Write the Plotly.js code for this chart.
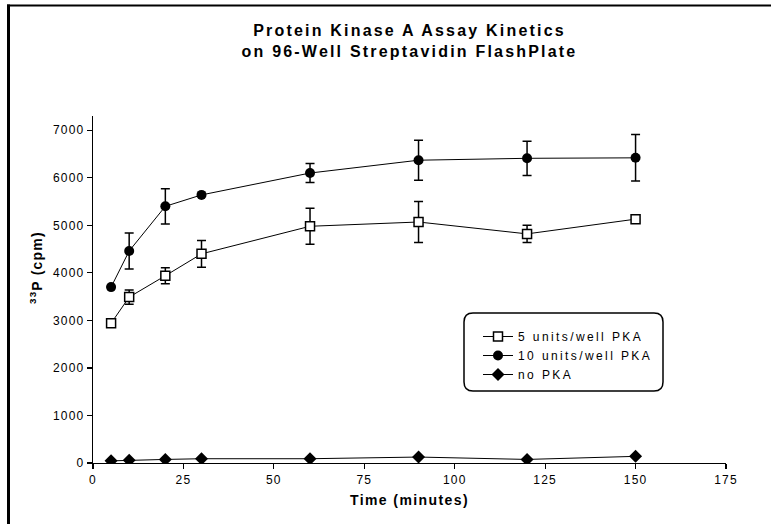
<!DOCTYPE html>
<html>
<head>
<meta charset="utf-8">
<script src="https://cdn.plot.ly/plotly-3.0.1.min.js"></script>
<style>
  html, body { margin: 0; padding: 0; background: #ffffff; }
  #chart { width: 771px; height: 524px; }
  .gtitle { letter-spacing: 2.2px; }
  .xtitle { letter-spacing: 1.4px; }
  .xtick text, .ytick text { letter-spacing: 1.2px; }
  .legendtext { letter-spacing: 2.4px; }
  .annotation-text { letter-spacing: 1.2px; }
</style>
</head>
<body>
<div id="chart"></div>
<script>
// ---- data ----
const timeMinutes = [5, 10, 20, 30, 60, 90, 120, 150];
const pka5 = [2940, 3490, 3940, 4400, 4980, 5070, 4820, 5130];
const pka5Err = [0, 150, 170, 280, 380, 430, 180, 0];
const pka10 = [3700, 4460, 5400, 5640, 6100, 6370, 6410, 6420];
const pka10Err = [0, 380, 370, 0, 200, 420, 360, 490];
const noPka = [45, 60, 75, 90, 90, 125, 75, 140];
const seriesNames = ['5 units/well PKA', '10 units/well PKA', 'no PKA'];
const xTickVals = [0, 25, 50, 75, 100, 125, 150, 175];
const yTickVals = [0, 1000, 2000, 3000, 4000, 5000, 6000, 7000];

const FONT = '"Liberation Sans", Arial, Helvetica, sans-serif';

const traces = [
  {
    x: timeMinutes, y: pka5, name: seriesNames[0], type: 'scatter', mode: 'lines+markers',
    line: { color: '#000000', width: 1 },
    marker: { symbol: 'square', size: 9, color: '#ffffff', line: { color: '#000000', width: 1.5 } },
    error_y: { type: 'data', array: pka5Err, visible: true, color: '#000000', thickness: 1.5, width: 4.5 }
  },
  {
    x: timeMinutes, y: pka10, name: seriesNames[1], type: 'scatter', mode: 'lines+markers',
    line: { color: '#000000', width: 1 },
    marker: { symbol: 'circle', size: 10, color: '#000000' },
    error_y: { type: 'data', array: pka10Err, visible: true, color: '#000000', thickness: 1.5, width: 4.5 }
  },
  {
    x: timeMinutes, y: noPka, name: seriesNames[2], type: 'scatter', mode: 'lines+markers',
    line: { color: '#000000', width: 1 },
    marker: { symbol: 'diamond', size: 10, color: '#000000' }
  }
];

// plot area: left 93px, right 726px, top 116px, bottom 463px
const L = 93, R = 726, T = 116, B = 463;
const px = v => (v - L) / (R - L);
const py = v => (B - v) / (B - T);

function roundRect(x0, y0, x1, y1, r) {
  const rx = r / (R - L), ry = r / (B - T);
  const X0 = px(x0), X1 = px(x1), Yt = py(y0), Yb = py(y1);
  return 'M' + (X0 + rx) + ',' + Yt +
    ' L' + (X1 - rx) + ',' + Yt +
    ' Q' + X1 + ',' + Yt + ' ' + X1 + ',' + (Yt - ry) +
    ' L' + X1 + ',' + (Yb + ry) +
    ' Q' + X1 + ',' + Yb + ' ' + (X1 - rx) + ',' + Yb +
    ' L' + (X0 + rx) + ',' + Yb +
    ' Q' + X0 + ',' + Yb + ' ' + X0 + ',' + (Yb + ry) +
    ' L' + X0 + ',' + (Yt - ry) +
    ' Q' + X0 + ',' + Yt + ' ' + (X0 + rx) + ',' + Yt + ' Z';
}

const layout = {
  width: 771, height: 524,
  margin: { l: L, r: 771 - R, t: T, b: 524 - B, pad: 0 },
  paper_bgcolor: '#ffffff', plot_bgcolor: '#ffffff',
  font: { family: FONT, color: '#000000', size: 12 },
  showlegend: true,
  title: {
    text: 'Protein Kinase A Assay Kinetics<br>on 96-Well Streptavidin FlashPlate',
    font: { family: FONT, size: 16, color: '#000000', weight: 'bold' },
    x: 0.5, xref: 'paper', xanchor: 'center',
    y: 1 - 36 / 524, yref: 'container', yanchor: 'top'
  },
  xaxis: {
    range: [0, 175], tickvals: xTickVals, ticktext: xTickVals.map(String),
    showline: true, linecolor: '#000000', linewidth: 1.2,
    ticks: 'outside', ticklen: 5, tickwidth: 1.2, tickcolor: '#000000',
    showgrid: false, zeroline: false,
    tickfont: { family: FONT, size: 12, color: '#000000' },
    title: { text: 'Time (minutes)', font: { family: FONT, size: 14, color: '#000000', weight: 'bold' }, standoff: 9 }
  },
  yaxis: {
    range: [0, 7300], tickvals: yTickVals, ticktext: yTickVals.map(String),
    showline: true, linecolor: '#000000', linewidth: 1.2,
    ticks: 'outside', ticklen: 5, tickwidth: 1.2, tickcolor: '#000000',
    showgrid: false, zeroline: false,
    tickfont: { family: FONT, size: 12, color: '#000000' }
  },
  legend: {
    x: px(478), y: py(322), xanchor: 'left', yanchor: 'top',
    bgcolor: 'rgba(0,0,0,0)', borderwidth: 0,
    font: { family: FONT, size: 12, color: '#000000' },
    itemwidth: 30, tracegroupgap: 0
  },
  annotations: [
    {
      text: '<sup>33</sup>P (cpm)', xref: 'paper', yref: 'paper',
      x: px(36), y: py(268), xanchor: 'center', yanchor: 'middle',
      textangle: -90, showarrow: false,
      font: { family: FONT, size: 14, color: '#000000', weight: 'bold' }
    }
  ],
  shapes: [
    { type: 'path', xref: 'paper', yref: 'paper', path: roundRect(464, 313, 663, 391, 9),
      line: { color: '#000000', width: 1.5 }, fillcolor: 'rgba(0,0,0,0)', layer: 'above' },
    { type: 'line', xref: 'paper', yref: 'paper', x0: px(8.5), x1: px(8.5), y0: py(4.5), y1: py(530),
      line: { color: '#000000', width: 3 } },
    { type: 'line', xref: 'paper', yref: 'paper', x0: px(7), x1: px(780), y0: py(5.5), y1: py(5.5),
      line: { color: '#000000', width: 2 } }
  ]
};

Plotly.newPlot('chart', traces, layout, { displayModeBar: false, staticPlot: true });
</script>
</body>
</html>
